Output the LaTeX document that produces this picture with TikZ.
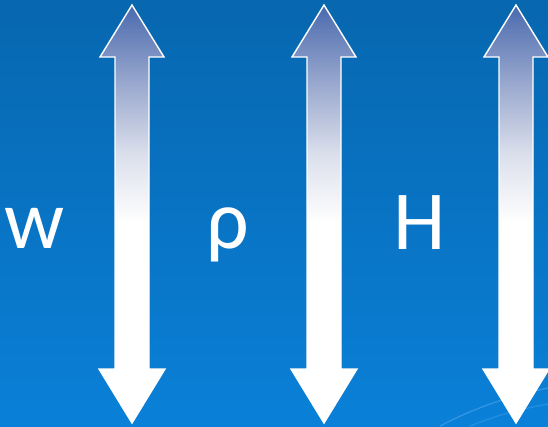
\documentclass[tikz,border=0pt]{standalone}
\usepackage{fontspec}
\setmainfont{Carlito}
\definecolor{bgtop}{HTML}{0767AF}
\definecolor{bgbot}{HTML}{0A80D8}
\definecolor{arrtop}{HTML}{4A6AAE}
\definecolor{arrmid}{HTML}{9EACD0}
\definecolor{arrlow}{HTML}{DCE0EC}
\definecolor{swoosh}{HTML}{3D9AE8}
\pgfdeclareverticalshading{arrowshade}{100bp}{color(0bp)=(white); color(49bp)=(white); color(57bp)=(arrlow); color(65bp)=(arrmid); color(75bp)=(arrtop); color(100bp)=(arrtop)}
\tikzset{
  dblarrowshape/.style={shading=arrowshade, draw=white, line width=1.4pt, line join=miter},
  letter/.style={text=white, font=\fontsize{84}{84}\selectfont, anchor=base, inner sep=0pt},
  swooshline/.style={draw=swoosh, line width=1.4pt, opacity=0.75}
}
\begin{document}
\begin{tikzpicture}[x=1pt,y=-1pt]
  \useasboundingbox (0,0) rectangle (548,426);
  \shade[top color=bgtop, bottom color=bgbot] (0,0) rectangle (548,426);
  % faint swooshes bottom right
  \draw[swooshline] (440,426) .. controls (480,405) and (515,395) .. (548,388);
  \draw[swooshline, opacity=0.5] (470,426) .. controls (500,414) and (525,408) .. (548,404);
  % double arrows
  \foreach \cx in {132,324,516}{
    \path[dblarrowshape] (\cx,5) -- (\cx+32,57) -- (\cx+17,57) -- (\cx+17,369)
      -- (\cx+33,369) -- (\cx,423) -- (\cx-33,369) -- (\cx-17,369)
      -- (\cx-17,57) -- (\cx-32,57) -- cycle;
  }
  % letters
  \node[letter] (w) at (35,248) {w};
  \node[letter] (rho) at (228,248) {ρ};
  \node[letter] (H) at (420,249) {H};
\end{tikzpicture}
\end{document}
